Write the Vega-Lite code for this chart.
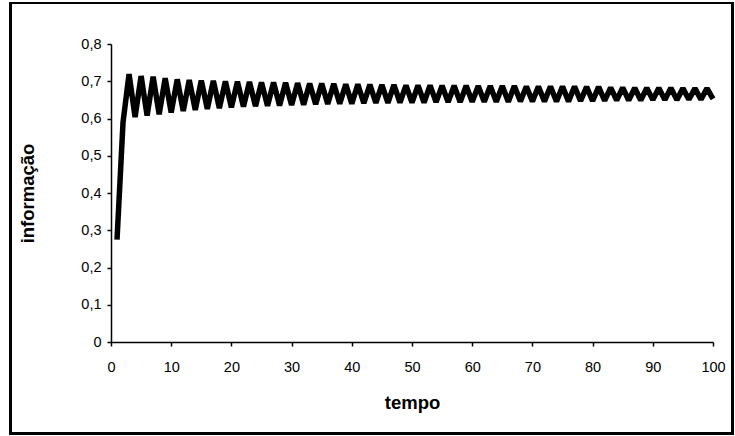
{
  "$schema": "https://vega.github.io/schema/vega-lite/v6.json",
  "autosize": {"type": "none"},
  "width": 602,
  "height": 298,
  "padding": {"left": 111, "top": 44, "right": 22, "bottom": 94},
  "background": "white",
  "config": {
    "view": {"stroke": null},
    "font": "Liberation Sans",
    "axis": {
      "domainColor": "black", "domainWidth": 1.5,
      "tickColor": "black", "tickWidth": 1.5, "tickSize": 4,
      "labelColor": "black", "labelFont": "Liberation Sans", "labelFontSize": 14.5,
      "labelOverlap": false, "labelFlush": false,
      "titleColor": "black", "titleFont": "Liberation Sans", "titleFontSize": 18.5, "titleFontWeight": "bold",
      "grid": false
    }
  },
  "data": {"values": [
    {"t": 1, "v": 0.275}, {"t": 2, "v": 0.590}, {"t": 3, "v": 0.719}, {"t": 4, "v": 0.604},
    {"t": 5, "v": 0.714}, {"t": 6, "v": 0.608}, {"t": 7, "v": 0.712}, {"t": 8, "v": 0.611},
    {"t": 9, "v": 0.708}, {"t": 10, "v": 0.616}, {"t": 11, "v": 0.705}, {"t": 12, "v": 0.620},
    {"t": 13, "v": 0.703}, {"t": 14, "v": 0.623}, {"t": 15, "v": 0.702}, {"t": 16, "v": 0.626},
    {"t": 17, "v": 0.701}, {"t": 18, "v": 0.628}, {"t": 19, "v": 0.700}, {"t": 20, "v": 0.630},
    {"t": 21, "v": 0.699}, {"t": 22, "v": 0.632}, {"t": 23, "v": 0.698}, {"t": 24, "v": 0.633},
    {"t": 25, "v": 0.697}, {"t": 26, "v": 0.634}, {"t": 27, "v": 0.697}, {"t": 28, "v": 0.635},
    {"t": 29, "v": 0.696}, {"t": 30, "v": 0.636}, {"t": 31, "v": 0.695}, {"t": 32, "v": 0.637},
    {"t": 33, "v": 0.694}, {"t": 34, "v": 0.638}, {"t": 35, "v": 0.694}, {"t": 36, "v": 0.639},
    {"t": 37, "v": 0.693}, {"t": 38, "v": 0.640}, {"t": 39, "v": 0.692}, {"t": 40, "v": 0.640},
    {"t": 41, "v": 0.692}, {"t": 42, "v": 0.641}, {"t": 43, "v": 0.691}, {"t": 44, "v": 0.642},
    {"t": 45, "v": 0.690}, {"t": 46, "v": 0.642}, {"t": 47, "v": 0.690}, {"t": 48, "v": 0.643},
    {"t": 49, "v": 0.689}, {"t": 50, "v": 0.643}, {"t": 51, "v": 0.689}, {"t": 52, "v": 0.643},
    {"t": 53, "v": 0.689}, {"t": 54, "v": 0.644}, {"t": 55, "v": 0.688}, {"t": 56, "v": 0.644},
    {"t": 57, "v": 0.688}, {"t": 58, "v": 0.644}, {"t": 59, "v": 0.688}, {"t": 60, "v": 0.645},
    {"t": 61, "v": 0.687}, {"t": 62, "v": 0.645}, {"t": 63, "v": 0.687}, {"t": 64, "v": 0.645},
    {"t": 65, "v": 0.687}, {"t": 66, "v": 0.645}, {"t": 67, "v": 0.687}, {"t": 68, "v": 0.646},
    {"t": 69, "v": 0.686}, {"t": 70, "v": 0.646}, {"t": 71, "v": 0.686}, {"t": 72, "v": 0.646},
    {"t": 73, "v": 0.686}, {"t": 74, "v": 0.646}, {"t": 75, "v": 0.686}, {"t": 76, "v": 0.646},
    {"t": 77, "v": 0.686}, {"t": 78, "v": 0.647}, {"t": 79, "v": 0.685}, {"t": 80, "v": 0.647},
    {"t": 81, "v": 0.685}, {"t": 82, "v": 0.648}, {"t": 83, "v": 0.683}, {"t": 84, "v": 0.649},
    {"t": 85, "v": 0.683}, {"t": 86, "v": 0.649}, {"t": 87, "v": 0.682}, {"t": 88, "v": 0.649},
    {"t": 89, "v": 0.682}, {"t": 90, "v": 0.650}, {"t": 91, "v": 0.682}, {"t": 92, "v": 0.650},
    {"t": 93, "v": 0.682}, {"t": 94, "v": 0.650}, {"t": 95, "v": 0.681}, {"t": 96, "v": 0.651},
    {"t": 97, "v": 0.681}, {"t": 98, "v": 0.651}, {"t": 99, "v": 0.681}, {"t": 100, "v": 0.653}
  ]},
  "layer": [
    {
      "mark": {"type": "line", "color": "black", "strokeWidth": 5.5, "strokeJoin": "bevel", "clip": false},
      "encoding": {
        "x": {
          "field": "t", "type": "quantitative",
          "scale": {"domain": [0, 100], "nice": false, "zero": false},
          "axis": {"values": [0,10,20,30,40,50,60,70,80,90,100], "tickCount": 30, "title": "tempo", "labelPadding": 14, "titlePadding": 20, "labelOverlap": false}
        },
        "y": {
          "field": "v", "type": "quantitative",
          "scale": {"domain": [0, 0.8], "nice": false},
          "axis": {
            "values": [0,0.1,0.2,0.3,0.4,0.5,0.6,0.7,0.8],
            "tickCount": 20,
            "format": ".1f",
            "labelOverlap": false,
            "title": "informação",
            "labelPadding": 6,
            "titleX": -84,
            "titleY": 149,
            "titleBaseline": "middle",
            "labelExpr": "datum.value == 0 ? '0' : replace(datum.label, '.', ',')"
          }
        }
      }
    },
    {
      "mark": {"type": "rect", "fill": null, "stroke": "black", "strokeWidth": 2, "clip": false},
      "encoding": {
        "x": {"datum": -16.75, "type": "quantitative"},
        "x2": {"datum": 103.3},
        "y": {"datum": 0.91, "type": "quantitative"},
        "y2": {"datum": -0.246}
      }
    }
  ]
}
